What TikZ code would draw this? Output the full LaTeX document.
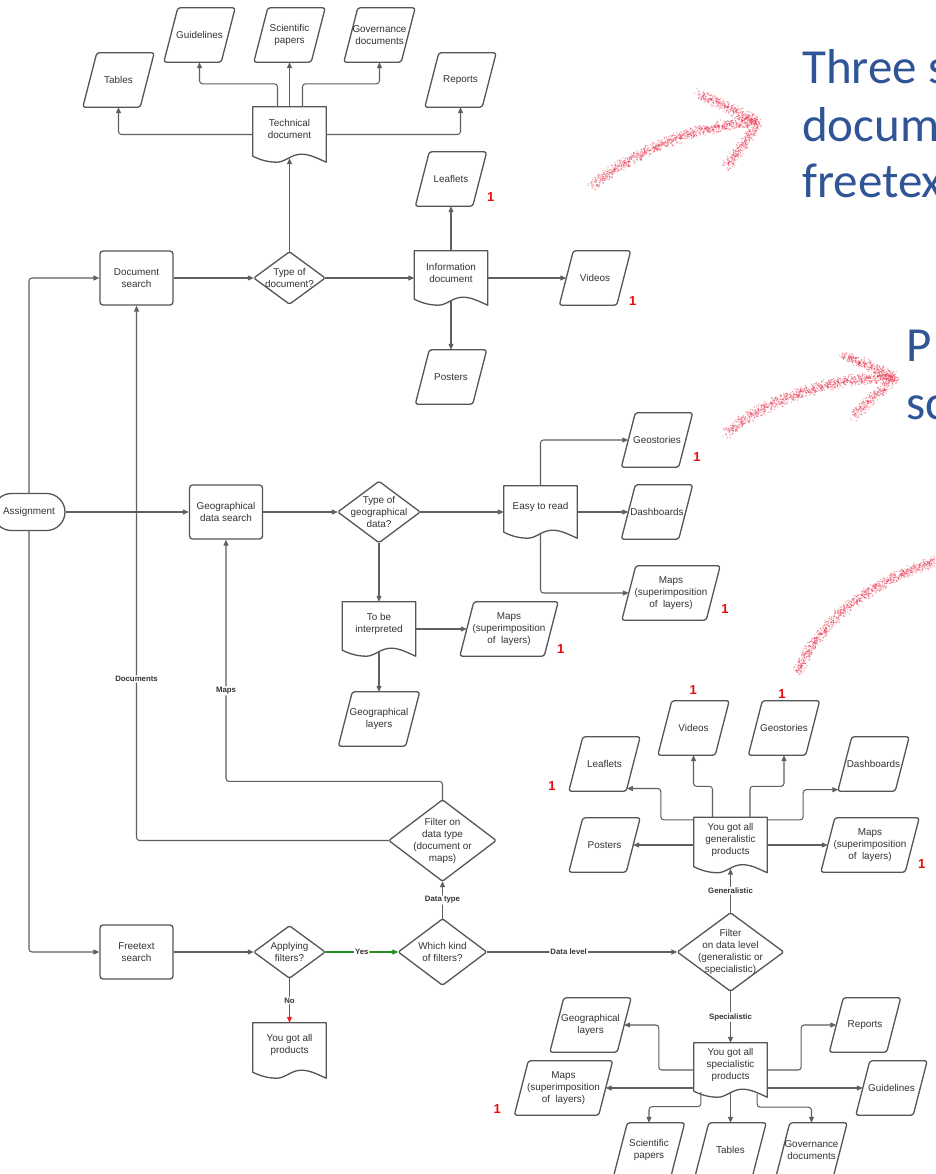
\documentclass[tikz,border=0pt]{standalone}
\usepackage{fontspec}
\setmainfont{Liberation Sans}
\newfontfamily\titlefont{Carlito}
\usetikzlibrary{arrows.meta,decorations.markings}

\definecolor{ink}{RGB}{51,51,51}
\definecolor{outline}{RGB}{85,85,85}
\definecolor{wire}{RGB}{95,95,95}
\definecolor{yesgreen}{RGB}{30,145,30}
\definecolor{nored}{RGB}{232,30,40}
\definecolor{markred}{RGB}{235,10,10}
\definecolor{titleblue}{RGB}{47,85,151}
\definecolor{chalkred}{RGB}{228,25,55}

\tikzset{
  txt/.style={font=\fontsize{9.9}{12}\selectfont, text=ink, align=center},
  shp/.style={draw=outline, line width=1.3pt, line join=round},
  process/.style={txt, shp, rectangle, rounded corners=3pt, inner sep=0pt,
    minimum width=73pt, minimum height=54pt},
  terminal/.style={txt, shp, rectangle, rounded corners=18.5pt, inner sep=0pt,
    minimum width=72pt, minimum height=37pt},
  decision/.style 2 args={txt, rectangle, inner sep=0pt, minimum width=#1, minimum height=#2,
    append after command={\pgfextra{\let\shpnode\tikzlastnode
      \draw[shp, rounded corners=1.5pt] (\shpnode.north) -- (\shpnode.east)
        -- (\shpnode.south) -- (\shpnode.west) -- cycle;}}},
  data/.style={txt, rectangle, inner sep=0pt, minimum width=#1, minimum height=54pt,
    append after command={\pgfextra{\let\shpnode\tikzlastnode
      \draw[shp, rounded corners=2.5pt] ([xshift=7pt]\shpnode.north west)
        -- ([xshift=7pt]\shpnode.north east) -- ([xshift=-7pt]\shpnode.south east)
        -- ([xshift=-7pt]\shpnode.south west) -- cycle;}}},
  data/.default=57pt,
  doc/.style 2 args={rectangle, inner sep=0pt, minimum width=73pt, minimum height=#1,
    append after command={\pgfextra{\let\shpnode\tikzlastnode
      \draw[shp] ([yshift=6pt]\shpnode.south west) -- (\shpnode.north west)
        -- (\shpnode.north east) -- (\shpnode.south east)
        .. controls ([shift={(-11pt,5pt)}]\shpnode.south east) and ([shift={(-17pt,8pt)}]\shpnode.south east)
        .. ([shift={(-25pt,8pt)}]\shpnode.south east)
        .. controls ([shift={(-35pt,8pt)}]\shpnode.south east) and ([shift={(-41pt,0pt)}]\shpnode.south east)
        .. ([xshift=24pt]\shpnode.south west)
        .. controls ([xshift=14pt]\shpnode.south west) and ([shift={(6pt,3pt)}]\shpnode.south west)
        .. ([yshift=6pt]\shpnode.south west) -- cycle;}},
    label={[txt, yshift=5.5pt]center:#2}},
  con/.style={draw=wire, line width=1.05pt, rounded corners=3pt, -{Triangle[length=6pt,width=5pt]}},
  lbl/.style={fill=white, inner sep=1pt, font=\fontsize{7.8}{9}\selectfont\bfseries, text=ink},
  one/.style={font=\fontsize{13}{14}\selectfont\bfseries, text=markred, inner sep=0pt},
  title/.style={font=\titlefont\fontsize{49}{57}\selectfont, text=titleblue, anchor=base west, inner sep=0pt},
  chalk/.style={decorate, decoration={markings,
    mark=between positions 0 and 1 step 0.55pt with {
      \fill[chalkred, opacity=0.4] (rand*3.2pt+rand*3.2pt, rand*3.2pt+rand*3.2pt) circle (0.75pt);
      \fill[chalkred, opacity=0.4] (rand*3.2pt+rand*3.2pt, rand*3.2pt+rand*3.2pt) circle (0.75pt);
      \fill[chalkred, opacity=0.4] (rand*3.2pt+rand*3.2pt, rand*3.2pt+rand*3.2pt) circle (0.75pt);}}}
}

\begin{document}
\begin{tikzpicture}[x=1pt,y=-1pt]
\useasboundingbox (0,0) rectangle (935,1174);
\fill[white] (0,0) rectangle (935,1174);
\clip (0,0) rectangle (935,1174);
\pgfmathsetseed{42}

% ---------- document search branch ----------
\node[process] (ds) at (136.5,278) {Document\\search};
\node[decision={71pt}{52pt}] (tod) at (289.5,278) {Type of\\document?};
\node[doc={55pt}{Technical\\document}] (td) at (289.5,134.5) {};
\node[data] (tables) at (118.5,80) {Tables};
\node[data] (guide) at (199.5,35) {Guidelines};
\node[data] (sci) at (289.5,35) {Scientific\\papers};
\node[data] (gov) at (379.5,35) {Governance\\documents};
\node[data] (reports) at (460.5,80) {Reports};
\node[doc={54pt}{Information\\document}] (info) at (451,278) {};
\node[data] (leaf) at (451,179) {Leaflets};
\node[data] (vid) at (595,278) {Videos};
\node[data] (post) at (451,377) {Posters};

% ---------- geographical data branch ----------
\node[terminal] (asg) at (29,512) {Assignment};
\node[process] (gds) at (226,512) {Geographical\\data search};
\node[decision={82pt}{61pt}] (tgd) at (379,512) {Type of\\geographical\\data?};
\node[doc={52pt}{Easy to read}] (etr) at (540.5,512) {};
\node[data] (geost) at (657,440) {Geostories};
\node[data] (dash) at (657,512) {Dashboards};
\node[data=84pt] (maps1) at (671,593) {Maps\\(superimposition\\of\ \ layers)};
\node[doc={54pt}{To be\\interpreted}] (tbi) at (379,629) {};
\node[data=84pt] (maps2) at (509,629) {Maps\\(superimposition\\of\ \ layers)};
\node[data=67pt] (geol) at (379,719) {Geographical\\layers};

% ---------- freetext branch ----------
\node[decision={107pt}{81pt}] (fdt) at (442.5,840.5) {Filter on\\data type\\(document or\\maps)};
\node[process] (ft) at (136.5,952) {Freetext\\search};
\node[decision={71pt}{52pt}] (af) at (289.5,952) {Applying\\filters?};
\node[decision={88pt}{66pt}] (wk) at (442.5,952) {Which kind\\of filters?};
\node[doc={55pt}{You got all\\products}] (prod) at (289.5,1050.5) {};
\node[decision={106pt}{78pt}] (fdl) at (730.5,952) {Filter\\on data level\\(generalistic or\\specialistic)};

% generalistic products
\node[doc={55pt}{You got all\\generalistic\\products}] (gen) at (730.5,845) {};
\node[data] (post2) at (604.5,845) {Posters};
\node[data] (leaf2) at (604.5,764) {Leaflets};
\node[data] (vid2) at (693.5,728) {Videos};
\node[data] (geo2) at (784,728) {Geostories};
\node[data] (dash2) at (873.5,764) {Dashboards};
\node[data=84pt] (maps3) at (870,845) {Maps\\(superimposition\\of\ \ layers)};

% specialistic products
\node[doc={54pt}{You got all\\specialistic\\products}] (spec) at (730.5,1070) {};
\node[data=67pt] (geol2) at (590.5,1025) {Geographical\\layers};
\node[data=84pt] (maps4) at (563.5,1088) {Maps\\(superimposition\\of\ \ layers)};
\node[data] (rep2) at (865,1025) {Reports};
\node[data] (guid2) at (891.5,1088) {Guidelines};
\node[data] (sci2) at (649,1150) {Scientific\\papers};
\node[data] (tab2) at (730.5,1150) {Tables};
\node[data] (gov2) at (811.5,1150) {Governance\\documents};

% ---------- connectors ----------
\draw[con] (asg.north) |- (ds.west);
\draw[con] (asg.east) -- (gds.west);
\draw[con] (asg.south) |- (ft.west);
\draw[con] (ds.east) -- (tod.west);
\draw[con] (tod.east) -- (info.west);
\draw[con] (tod.north) -- ([yshift=4pt]td.south);
\draw[con] (td.west) -| (tables.south);
\draw[con] (td.east) -| (reports.south);
\draw[con] ([xshift=-12pt]td.north) -- ++(0,-23) -| (guide.south);
\draw[con] (td.north) -- (sci.south);
\draw[con] ([xshift=13pt]td.north) -- ++(0,-23) -| (gov.south);
\draw[con] (info.north) -- (leaf.south);
\draw[con] (info.east) -- (vid.west);
\draw[con] ([yshift=4pt]info.south) -- (post.north);

\draw[con] (gds.east) -- (tgd.west);
\draw[con] (tgd.east) -- (etr.west);
\draw[con] (tgd.south) -- (tbi.north);
\draw[con] (etr.north) |- (geost.west);
\draw[con] (etr.east) -- (dash.west);
\draw[con] ([yshift=4pt]etr.south) |- (maps1.west);
\draw[con] (tbi.east) -- (maps2.west);
\draw[con] ([yshift=4pt]tbi.south) -- (geol.north);

\draw[con] (fdt.west) -| node[lbl, pos=0.651] {Documents} (ds.south);
\draw[con] (fdt.north) -- ++(0,-18.5) -| node[lbl, pos=0.687] {Maps} (gds.south);

\draw[con] (ft.east) -- (af.west);
\draw[con, draw=yesgreen] (af.east) -- node[lbl] {Yes} (wk.west);
\draw[con, draw=nored] (af.south) -- node[lbl] {No} (prod.north);
\draw[con] (wk.north) -- node[lbl] {Data type} (fdt.south);
\draw[con] (wk.east) -- node[lbl, pos=0.43] {Data level} (fdl.west);
\draw[con] (fdl.north) -- node[lbl] {Generalistic} ([yshift=4pt]gen.south);
\draw[con] (fdl.south) -- node[lbl] {Specialistic} (spec.north);

\draw[con] (gen.west) -- (post2.east);
\draw[con] (gen.east) -- (maps3.west);
\draw[con] ([yshift=-2.5pt]gen.north west) -- ++(-33,0) |- ([xshift=-6.3pt,yshift=2.7pt]leaf2.south east);
\draw[con] ([xshift=-18pt]gen.north) -- ++(0,-31) -| (vid2.south);
\draw[con] ([xshift=19.5pt]gen.north) -- ++(0,-31) -| (geo2.south);
\draw[con] ([yshift=-2.5pt]gen.north east) -- ++(36,0) |- ([xshift=-6.5pt,yshift=1.5pt]dash2.south west);

\draw[con] (spec.west) -- ++(-35,0) |- (geol2.east);
\draw[con] ([yshift=-18pt]spec.west) -- (maps4.east);
\draw[con] (spec.east) -- ++(34,0) |- (rep2.west);
\draw[con] ([yshift=-18pt]spec.east) -- (guid2.west);
\draw[con] ([xshift=7pt,yshift=5pt]spec.south west) -- ++(0,14.5) -| (sci2.north);
\draw[con] ([yshift=4pt]spec.south) -- (tab2.north);
\draw[con] ([xshift=-10pt,yshift=3pt]spec.south east) -- ++(0,13) -| (gov2.north);

% ---------- footnote marks ----------
\node[one] (m1) at (490.7,197) {1};
\node[one] (m2) at (632.7,301.5) {1};
\node[one] (m3) at (697,457) {1};
\node[one] (m4) at (725,609) {1};
\node[one] (m5) at (560.7,649) {1};
\node[one] (m6) at (693.3,690) {1};
\node[one] (m7) at (782,694) {1};
\node[one] (m8) at (552,786) {1};
\node[one] (m9) at (921.7,864) {1};
\node[one] (m10) at (497.3,1109) {1};

% ---------- headings on the right ----------
\node[title] (h1) at (802,84) {Three s};
\node[title] (h2) at (802,142) {docum};
\node[title] (h3) at (802,198) {freetex};
\node[title] (h4) at (906,361) {P};
\node[title] (h5) at (906,419) {sc};

% ---------- chalk arrows ----------
\path[chalk] (593,185) .. controls (640,148) and (700,124) .. (758,122);
\path[chalk] (700,94) -- (757,122);
\path[chalk] (757,124) -- (727,167);
\path[chalk] (727,433) .. controls (765,400) and (830,377) .. (895,377);
\path[chalk] (843,354) -- (894,377);
\path[chalk] (894,379) -- (853,416);
\path[chalk] (798,672) .. controls (812,635) and (855,585) .. (940,560);
\end{tikzpicture}
\end{document}
